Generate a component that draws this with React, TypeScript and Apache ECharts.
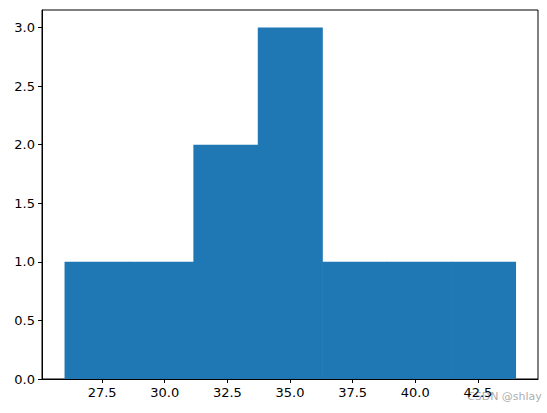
import React, { useEffect, useRef } from "react";
import * as echarts from "echarts";

const binEdges = [26, 28.571, 31.143, 33.714, 36.286, 38.857, 41.429, 44];
const counts = [1, 1, 2, 3, 1, 1, 1];
const xTicks = [27.5, 30.0, 32.5, 35.0, 37.5, 40.0, 42.5];
const yTicks = [0, 0.5, 1.0, 1.5, 2.0, 2.5, 3.0];

export default function App() {
  const ref = useRef<HTMLDivElement>(null);
  useEffect(() => {
    const chart = echarts.init(ref.current!, null, { renderer: "svg" });
    const data = counts.map((c, i) => [binEdges[i], binEdges[i + 1], c]);
    const font = "DejaVu Sans";
    chart.setOption({
      animation: false,
      grid: {
        left: 42,
        right: 9,
        top: 10,
        bottom: 34,
        show: true,
        borderColor: "#000",
        borderWidth: 1,
        backgroundColor: "transparent",
      },
      xAxis: {
        type: "value",
        min: 25.1,
        max: 44.9,
        splitLine: { show: false },
        axisLine: { show: true, lineStyle: { color: "#000" } },
        axisTick: { show: true, length: 4, customValues: xTicks, lineStyle: { color: "#000" } },
        axisLabel: {
          customValues: xTicks,
          formatter: (v: number) => v.toFixed(1),
          color: "#000",
          fontFamily: font,
          fontSize: 13,
          margin: 7,
        },
      },
      yAxis: {
        type: "value",
        min: 0,
        max: 3.15,
        splitLine: { show: false },
        axisLine: { show: true, lineStyle: { color: "#000" } },
        axisTick: { show: true, length: 4, customValues: yTicks, lineStyle: { color: "#000" } },
        axisLabel: {
          customValues: yTicks,
          formatter: (v: number) => v.toFixed(1),
          color: "#000",
          fontFamily: font,
          fontSize: 13,
          margin: 7,
        },
      },
      series: [
        {
          type: "custom",
          data,
          encode: { x: [0, 1], y: 2 },
          renderItem: (params: any, api: any) => {
            const p0 = api.coord([api.value(0), api.value(2)]);
            const p1 = api.coord([api.value(1), 0]);
            return {
              type: "rect",
              shape: { x: p0[0], y: p0[1], width: p1[0] - p0[0] + 0.6, height: p1[1] - p0[1] },
              style: { fill: "#1f77b4", stroke: "none", lineWidth: 0 },
            };
          },
        },
      ],
      graphic: [
        {
          type: "text",
          left: 467,
          top: 391,
          style: { text: "CSDN @shlay", fill: "rgba(150,150,150,0.8)", fontSize: 11, fontFamily: font },
        },
      ],
    });
    return () => chart.dispose();
  }, []);
  return <div ref={ref} style={{ width: 547, height: 413, position: "absolute", left: 0, top: 0 }} />;
}
